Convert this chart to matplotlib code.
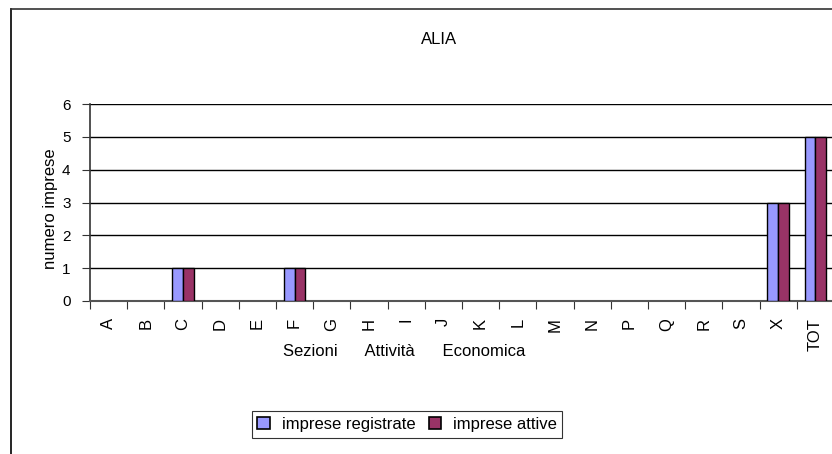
import matplotlib
matplotlib.use("Agg")
import matplotlib.pyplot as plt
from matplotlib.patches import Patch
import numpy as np

plt.rcParams['font.family'] = ['Liberation Sans', 'DejaVu Sans']

# data
sezioni = ['A', 'B', 'C', 'D', 'E', 'F', 'G', 'H', 'I', 'J', 'K', 'L', 'M', 'N',
           'P', 'Q', 'R', 'S', 'X', 'TOT']
registrate = [0, 0, 1, 0, 0, 1, 0, 0, 0, 0, 0, 0, 0, 0, 0, 0, 0, 0, 3, 5]
attive = [0, 0, 1, 0, 0, 1, 0, 0, 0, 0, 0, 0, 0, 0, 0, 0, 0, 0, 3, 5]
c_reg, c_att = '#9999FF', '#993366'

fig = plt.figure(figsize=(8.32, 4.54), dpi=100)
W, H = 832, 454

# outer chart border (top and left visible)
fig.add_artist(plt.Line2D([11 / W, 11 / W], [0, 1 - 9 / H], color='black', lw=1.2))
fig.add_artist(plt.Line2D([11 / W, 1], [1 - 9 / H, 1 - 9 / H], color='#333333', lw=1.2))

ax = fig.add_axes([90 / W, 1 - 301 / H, 744 / W, 197 / H])

x = np.arange(len(sezioni)) + 0.5
bw = 0.29
ax.bar(x - bw / 2, registrate, bw, color=c_reg, edgecolor='black',
       linewidth=[1 if v else 0 for v in registrate], zorder=3)
ax.bar(x + bw / 2, attive, bw, color=c_att, edgecolor='black',
       linewidth=[1 if v else 0 for v in attive], zorder=3)

ax.set_xlim(0, len(sezioni))
ax.set_ylim(0, 6)
ax.set_yticks(range(0, 7))
ax.set_xticks(np.arange(len(sezioni) + 1))
ax.set_xticklabels([])
ax.set_xticks(x, minor=True)
ax.set_xticklabels(sezioni, minor=True, rotation=90, fontsize=12)
ax.tick_params(axis='x', which='minor', length=0, pad=12)
ax.tick_params(axis='x', which='major', length=6, direction='out', color='#333333')
ax.tick_params(axis='y', length=6, direction='out', labelsize=11, pad=8, color='#333333')

ax.yaxis.grid(True, color='black', lw=1, zorder=0)
ax.set_axisbelow(True)
for s in ['top', 'right']:
    ax.spines[s].set_visible(False)
ax.spines['left'].set_color('#333333')
ax.spines['left'].set_linewidth(1.2)
ax.spines['bottom'].set_color('#555555')
ax.spines['bottom'].set_linewidth(1.5)

ax.set_ylabel('numero imprese', fontsize=12)
ax.yaxis.set_label_coords((58 - 90) / 744, 0.47)
ax.set_xlabel('Sezioni      Attività      Economica', fontsize=12)
ax.xaxis.set_label_coords((404 - 90) / 744, -(351 - 301) / 197)
ax.xaxis.label.set_va('center')

fig.text(439 / W, 1 - 40 / H, 'ALIA', ha='center', va='center', fontsize=12)

handles = [Patch(facecolor=c_reg, edgecolor='black', lw=1.2, label='imprese registrate'),
           Patch(facecolor=c_att, edgecolor='black', lw=1.2, label='imprese attive')]
leg = fig.legend(handles=handles, loc='center', bbox_to_anchor=(407 / W, 1 - 424.5 / H),
                 ncol=2, fontsize=12, frameon=True, fancybox=False, edgecolor='black',
                 handlelength=0.75, handleheight=0.75, handletextpad=0.7,
                 columnspacing=0.8, borderpad=0.35, borderaxespad=0)
leg.get_frame().set_linewidth(0.8)

fig.savefig('out.png', dpi=100)
